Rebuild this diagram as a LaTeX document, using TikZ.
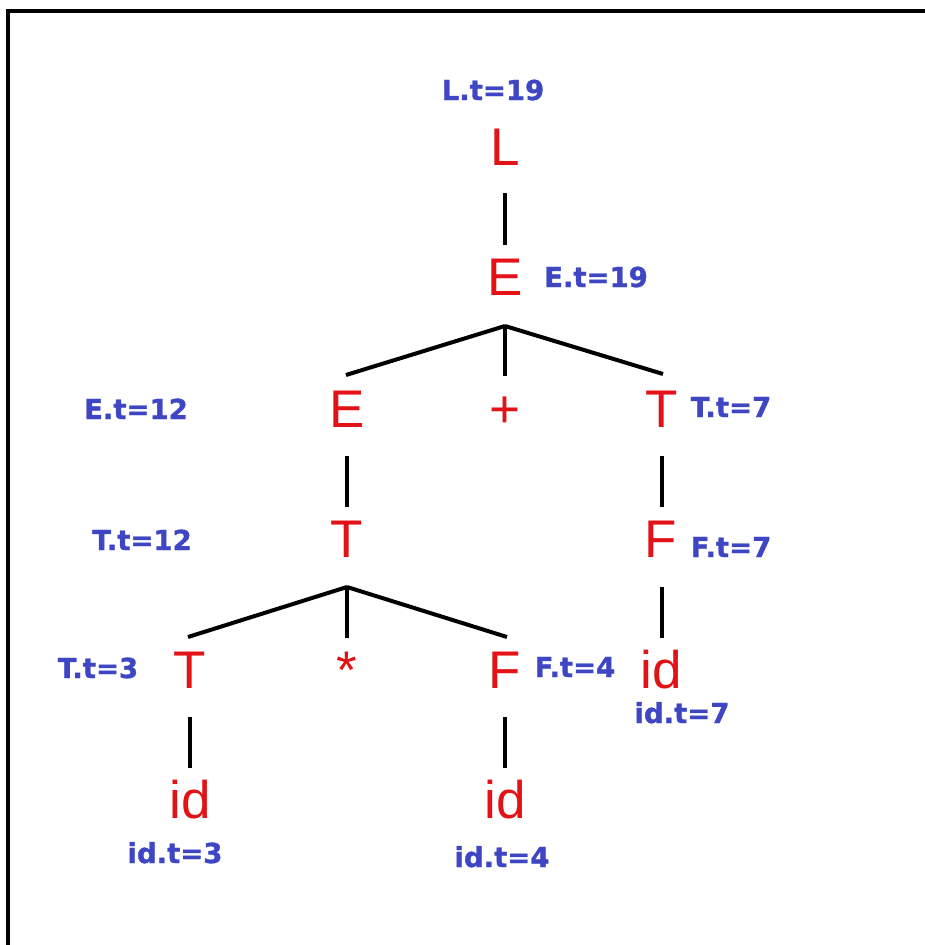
\documentclass[tikz,border=0pt]{standalone}
\usepackage{fontspec}
\setmainfont{Liberation Sans}
\newfontfamily\lblfont{DejaVu Sans}[BoldFeatures={FakeBold=1.2}]
\definecolor{nred}{RGB}{226,18,22}
\definecolor{lblue}{RGB}{62,70,196}
\tikzset{
  sym/.style={anchor=base, inner sep=0pt, text=nred, font=\fontsize{53}{53}\selectfont},
  attr/.style={anchor=base, inner sep=0pt, text=lblue, font=\lblfont\bfseries\fontsize{27.5}{28}\selectfont},
  edge/.style={line width=4pt, black},
  frame/.style={line width=4.5pt, black},
}
\begin{document}
\begin{tikzpicture}[x=1pt,y=-1pt]
\useasboundingbox (0,0) rectangle (924,945);
\draw[frame] (8,950) -- (8,11) -- (930,11);

% grammar symbols
\node[sym] (L) at (505,165) {L};
\node[sym] (E1) at (505,295) {E};
\node[sym] (E2) at (347,427) {E};
\node[sym] (plus) at (505,427) {+};
\node[sym] (T2) at (662,427) {T};
\node[sym] (T3) at (347,557) {T};
\node[sym] (F2) at (661,557) {F};
\node[sym] (idR) at (661,688) {id};
\node[sym] (T4) at (190,688) {T};
\node[sym] (star) at (347,688) {*};
\node[sym] (F4) at (505,688) {F};
\node[sym] (idA) at (190,818) {id};
\node[sym] (idB) at (505,818) {id};

% attribute labels
\node[attr] (aL) at (493,100) {L.t=19};
\node[attr] (aE1) at (596,287) {E.t=19};
\node[attr] (aE2) at (136,419) {E.t=12};
\node[attr] (aT2) at (731,417) {T.t=7};
\node[attr] (aT3) at (142,550) {T.t=12};
\node[attr] (aF2) at (731,557) {F.t=7};
\node[attr] (aidR) at (682,723) {id.t=7};
\node[attr] (aT4) at (98,678) {T.t=3};
\node[attr] (aF4) at (575,677) {F.t=4};
\node[attr] (aidA) at (175,863) {id.t=3};
\node[attr] (aidB) at (502,867) {id.t=4};

% junctions
\coordinate (j1) at ([yshift=-31pt]E1.base);
\coordinate (j2) at ([yshift=-30pt]T3.base);

% connectors
\draw[edge] ([yshift=-28pt]L.base) -- ([yshift=50pt]E1.base);
\draw[edge] (j1) -- ([xshift=-1pt,yshift=52pt]E2.base);
\draw[edge] (j1) -- ([yshift=51pt]plus.base);
\draw[edge] (j1) -- ([xshift=1pt,yshift=53pt]T2.base);
\draw[edge] ([yshift=-29pt]E2.base) -- ([yshift=50pt]T3.base);
\draw[edge] ([yshift=-29pt]T2.base) -- ([xshift=1pt,yshift=50pt]F2.base);
\draw[edge] ([xshift=1pt,yshift=-30pt]F2.base) -- ([xshift=1pt,yshift=50pt]idR.base);
\draw[edge] (j2) -- ([xshift=-2pt,yshift=51pt]T4.base);
\draw[edge] (j2) -- ([yshift=50pt]star.base);
\draw[edge] (j2) -- ([xshift=2pt,yshift=51pt]F4.base);
\draw[edge] ([yshift=-29pt]T4.base) -- ([yshift=50pt]idA.base);
\draw[edge] ([yshift=-29pt]F4.base) -- ([yshift=50pt]idB.base);
\end{tikzpicture}
\end{document}
